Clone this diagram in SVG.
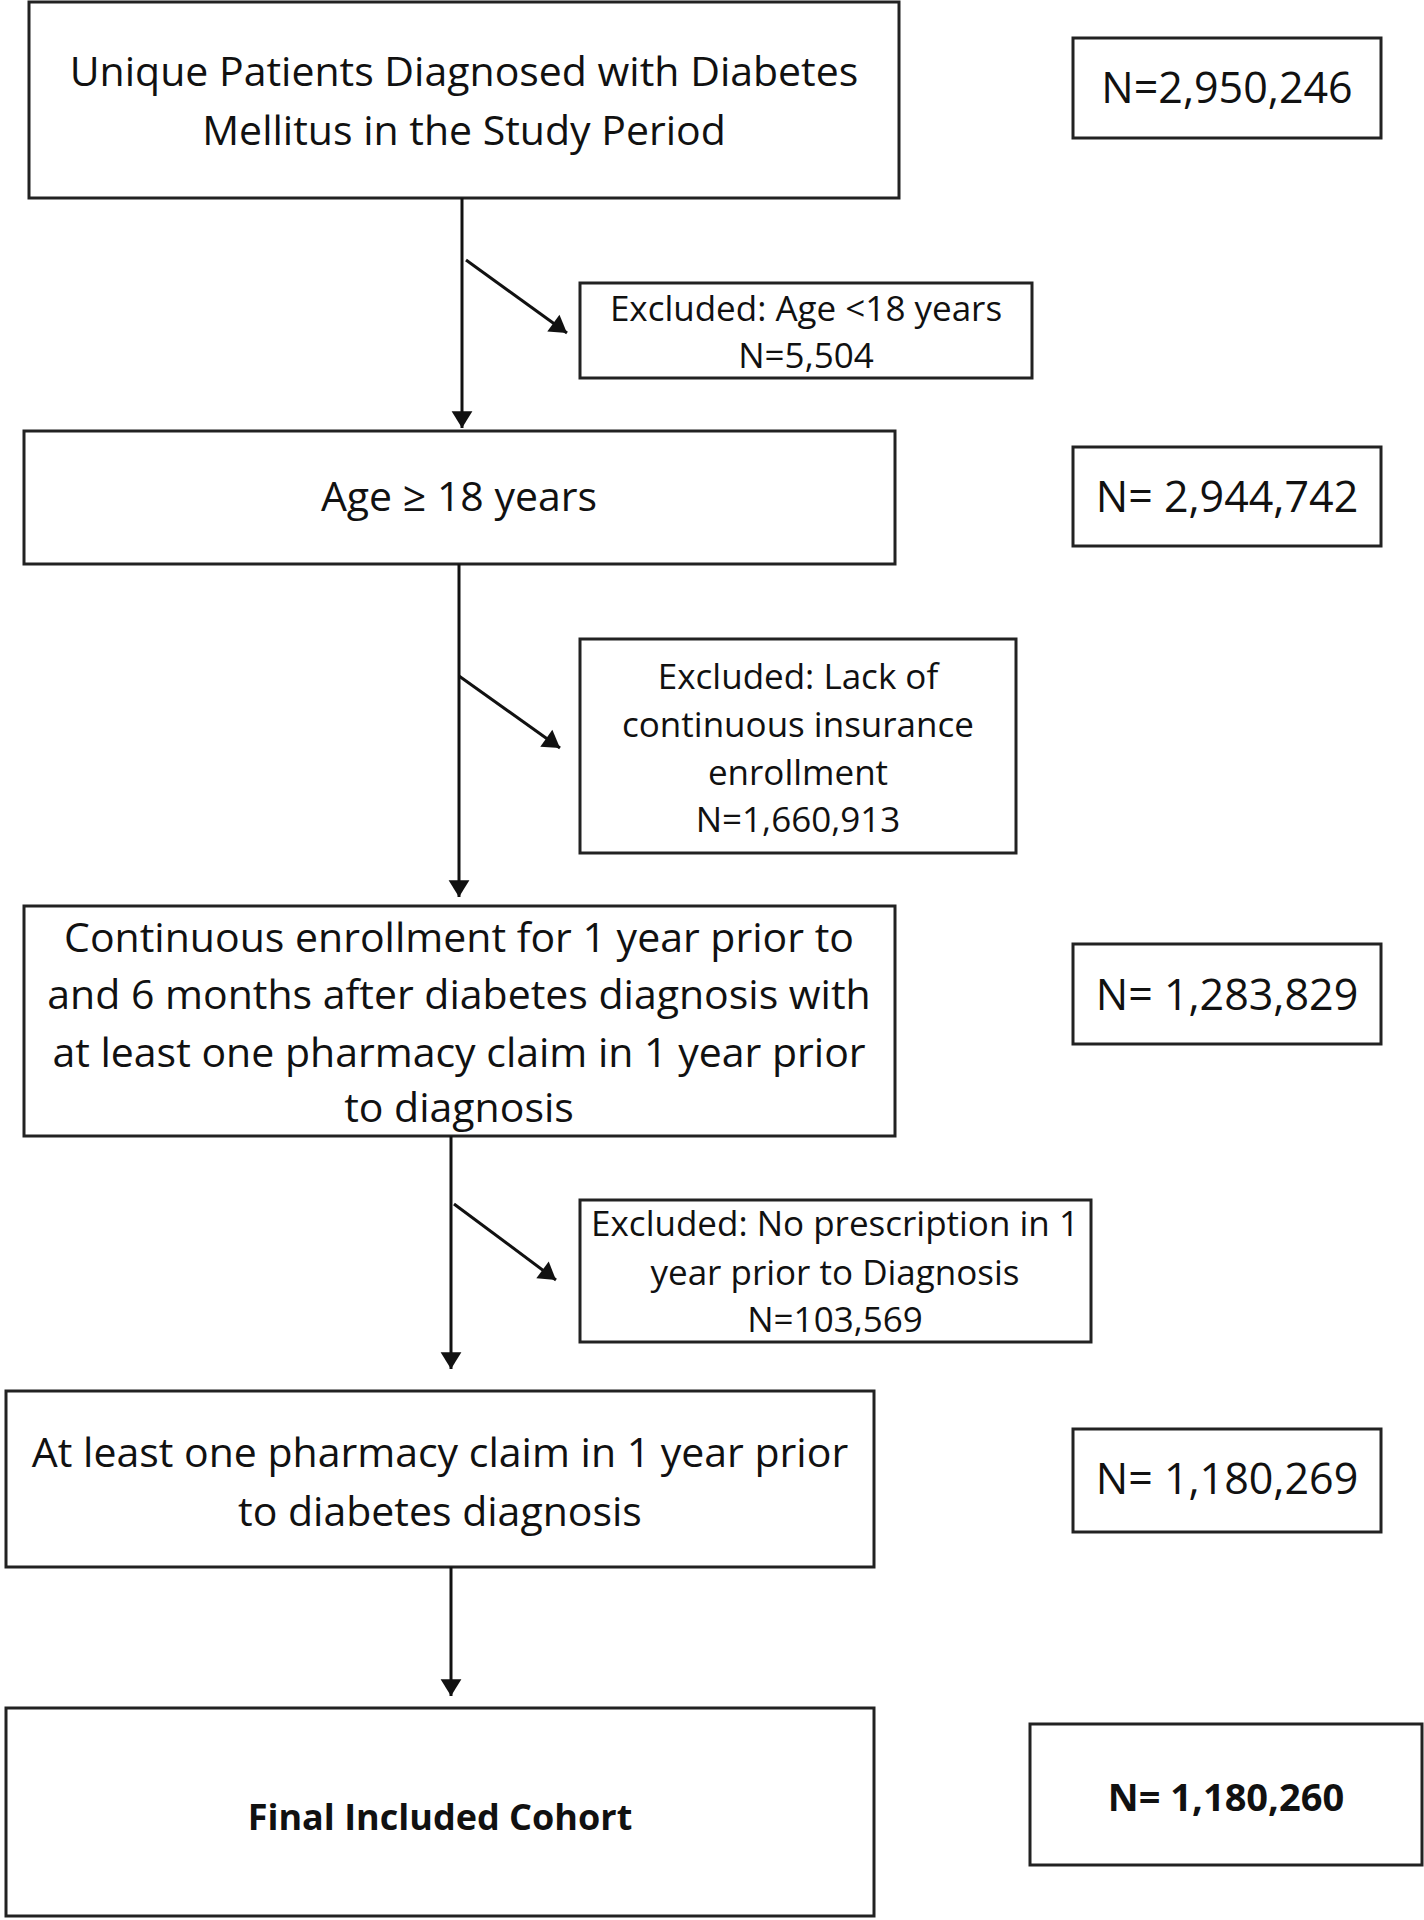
<svg xmlns="http://www.w3.org/2000/svg" width="1424" height="1920" viewBox="0 0 1424 1920">
<style>
rect{fill:#fff;stroke:#222;stroke-width:3}
text{font-family:"Open Sans","Liberation Sans",sans-serif;fill:#111;text-anchor:middle}
.m{font-size:41px}.e{font-size:35px}.n{font-size:43px}.b{font-size:36px;font-weight:bold}.nb{font-size:38px;font-weight:bold}
line{stroke:#111;stroke-width:3;marker-end:url(#a)}
</style>
<defs><marker id="a" viewBox="0 0 10 10" refX="9" refY="5" markerWidth="8" markerHeight="8" markerUnits="userSpaceOnUse" orient="auto" style="overflow:visible"><path d="M-12,-8 L9,5 L-12,18 Z" fill="#111"/></marker></defs>
<rect width="1424" height="1920" style="fill:#fff;stroke:none"/>
<g id="n1"><rect x="29" y="2" width="870" height="196"/><text class="m" x="464" y="86">Unique Patients Diagnosed with Diabetes</text><text class="m" x="464" y="145">Mellitus in the Study Period</text></g>
<g id="c1"><rect x="1073" y="38" width="308" height="100"/><text class="n" x="1227" y="103">N=2,950,246</text></g>
<g id="x1"><rect x="580" y="283" width="452" height="95"/><text class="e" x="806" y="321">Excluded: Age &lt;18 years</text><text class="e" x="806" y="368">N=5,504</text></g>
<g id="n2"><rect x="24" y="431" width="871" height="133"/><text class="m" x="459" y="511">Age ≥ 18 years</text></g>
<g id="c2"><rect x="1073" y="447" width="308" height="99"/><text class="n" x="1227" y="512">N= 2,944,742</text></g>
<g id="x2"><rect x="580" y="639" width="436" height="214"/><text class="e" x="798" y="689">Excluded: Lack of</text><text class="e" x="798" y="737">continuous insurance</text><text class="e" x="798" y="785">enrollment</text><text class="e" x="798" y="832">N=1,660,913</text></g>
<g id="n3"><rect x="24" y="906" width="871" height="230"/><text class="m" x="459" y="952">Continuous enrollment for 1 year prior to</text><text class="m" x="459" y="1009">and 6 months after diabetes diagnosis with</text><text class="m" x="459" y="1067">at least one pharmacy claim in 1 year prior</text><text class="m" x="459" y="1122">to diagnosis</text></g>
<g id="c3"><rect x="1073" y="944" width="308" height="100"/><text class="n" x="1227" y="1010">N= 1,283,829</text></g>
<g id="x3"><rect x="580" y="1200" width="511" height="142"/><text class="e" x="835" y="1236">Excluded: No prescription in 1</text><text class="e" x="835" y="1285">year prior to Diagnosis</text><text class="e" x="835" y="1332">N=103,569</text></g>
<g id="n4"><rect x="6" y="1391" width="868" height="176"/><text class="m" x="440" y="1467">At least one pharmacy claim in 1 year prior</text><text class="m" x="440" y="1526">to diabetes diagnosis</text></g>
<g id="c4"><rect x="1073" y="1429" width="308" height="103"/><text class="n" x="1227" y="1494">N= 1,180,269</text></g>
<g id="n5"><rect x="6" y="1708" width="868" height="208"/><text class="b" x="440" y="1830">Final Included Cohort</text></g>
<g id="c5"><rect x="1030" y="1724" width="392" height="141"/><text class="nb" x="1226" y="1811">N= 1,180,260</text></g>
<g id="connectors">
<line x1="462" y1="198" x2="462" y2="428"/><line x1="466" y1="260" x2="567" y2="333"/>
<line x1="459" y1="564" x2="459" y2="897"/><line x1="459" y1="676" x2="560" y2="748"/>
<line x1="451" y1="1136" x2="451" y2="1369"/><line x1="454" y1="1204" x2="556" y2="1280"/>
<line x1="451" y1="1567" x2="451" y2="1696"/>
</g>
</svg>
